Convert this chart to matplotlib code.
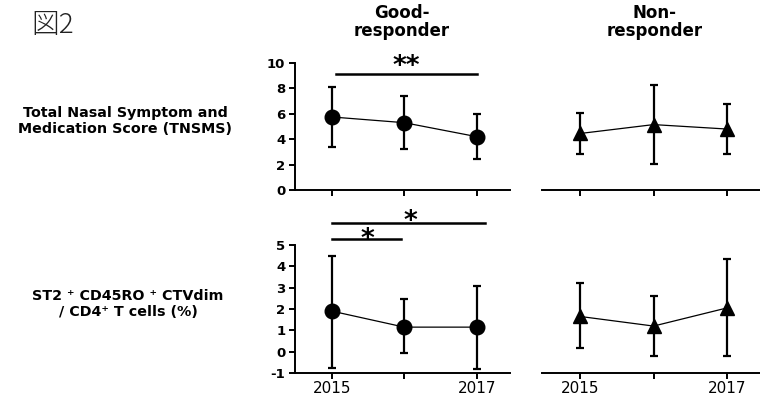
import matplotlib
matplotlib.use("Agg")
import matplotlib.pyplot as plt

years = [2015, 2016, 2017]
year_labels = ["2015", "", "2017"]

tnsms_good = [5.75, 5.3, 4.2]
tnsms_good_hi = [8.1, 7.4, 6.0]
tnsms_good_lo = [3.4, 3.25, 2.45]
tnsms_non = [4.45, 5.15, 4.8]
tnsms_non_hi = [6.05, 8.3, 6.8]
tnsms_non_lo = [2.85, 2.05, 2.8]

st2_good = [1.9, 1.15, 1.15]
st2_good_hi = [4.5, 2.45, 3.1]
st2_good_lo = [-0.75, -0.05, -0.8]
st2_non = [1.65, 1.2, 2.05]
st2_non_hi = [3.2, 2.6, 4.35]
st2_non_lo = [0.15, -0.2, -0.2]

plt.rcParams['font.family'] = ['DejaVu Sans']

fig = plt.figure(figsize=(7.6, 3.98), dpi=100)
W, H = 760, 398

def ax_at(x0, x1, ytop, ybot):
    return fig.add_axes([x0 / W, 1 - ybot / H, (x1 - x0) / W, (ybot - ytop) / H])

ax_tl = ax_at(295, 510, 63, 190)
ax_tr = ax_at(542, 760, 63, 190)
ax_bl = ax_at(295, 510, 245, 373)
ax_br = ax_at(542, 760, 245, 373)

def draw(ax, means, hi, lo, marker, xlim, ylim, yticks, show_y, show_x):
    yerr = [[m - l for m, l in zip(means, lo)], [h - m for m, h in zip(means, hi)]]
    ax.errorbar(years, means, yerr=yerr, fmt='none', ecolor='black', elinewidth=1.6,
                capsize=3, capthick=1.6, zorder=2, clip_on=False)
    ax.plot(years, means, color='black', lw=0.9, zorder=3, clip_on=False)
    ax.plot(years, means, linestyle='none', marker=marker, color='black',
            markersize=10.5, zorder=4, clip_on=False)
    ax.set_xlim(*xlim)
    ax.set_ylim(*ylim)
    for s in ['top', 'right']:
        ax.spines[s].set_visible(False)
    ax.spines['bottom'].set_linewidth(1.4)
    ax.set_xticks(years)
    ax.tick_params(axis='x', direction='out', length=4, width=1.4, pad=1.5)
    if show_x:
        ax.set_xticklabels(year_labels, fontsize=11)
    else:
        ax.set_xticklabels([])
    if show_y:
        ax.spines['left'].set_linewidth(1.4)
        ax.set_yticks(yticks)
        ax.set_yticklabels([str(t) for t in yticks], fontsize=9.5, fontweight='bold')
        ax.tick_params(axis='y', direction='out', length=4, width=1.4, pad=3)
    else:
        ax.spines['left'].set_visible(False)
        ax.set_yticks([])
    ax.patch.set_alpha(0)

draw(ax_tl, tnsms_good, tnsms_good_hi, tnsms_good_lo, 'o', (2014.49, 2017.46), (0, 10),
     [0, 2, 4, 6, 8, 10], True, False)
draw(ax_tr, tnsms_non, tnsms_non_hi, tnsms_non_lo, '^', (2014.48, 2017.45), (0, 10),
     [], False, False)
draw(ax_bl, st2_good, st2_good_hi, st2_good_lo, 'o', (2014.49, 2017.46), (-1, 5),
     [-1, 0, 1, 2, 3, 4, 5], True, True)
draw(ax_br, st2_non, st2_non_hi, st2_non_lo, '^', (2014.48, 2017.45), (-1, 5),
     [], False, True)

# significance bars
def star(ax, x, y, s, dy):
    ax.annotate(s, xy=(x, y), xytext=(0, dy), textcoords='offset pixels',
                ha='center', va='baseline', fontsize=19, fontweight='bold',
                annotation_clip=False)

ax_tl.plot([2015.05, 2017], [9.13, 9.13], color='black', lw=1.8, clip_on=False)
star(ax_tl, 2016.03, 9.13, '**', 0)
ax_bl.plot([2015, 2015.96], [5.28, 5.28], color='black', lw=1.8, clip_on=False)
star(ax_bl, 2015.49, 5.28, '*', -8)
ax_bl.plot([2015, 2017.11], [6.03, 6.03], color='black', lw=1.8, clip_on=False)
star(ax_bl, 2016.09, 6.03, '*', -6)

# column titles
fig.text(402 / W, 1 - 22 / H, 'Good-\nresponder', ha='center', va='center',
         fontsize=12, fontweight='bold', linespacing=1.05)
fig.text(655 / W, 1 - 22 / H, 'Non-\nresponder', ha='center', va='center',
         fontsize=12, fontweight='bold', linespacing=1.05)

# row labels
fig.text(125 / W, 1 - 121 / H, 'Total Nasal Symptom and\nMedication Score (TNSMS)',
         ha='center', va='center', fontsize=10.3, fontweight='bold', linespacing=1.15)
fig.text(128 / W, 1 - 304 / H, 'ST2 \u207a CD45RO \u207a CTVdim\n/ CD4\u207a T cells (%)',
         ha='center', va='center', fontsize=10.3, fontweight='bold', linespacing=1.15)

# figure label
fig.text(31 / W, 1 - 25 / H, '図2', ha='left', va='center', fontsize=20,
         family=['Noto Sans CJK JP', 'DejaVu Sans'], fontweight='light', color='#222222')

fig.savefig('out.png', dpi=100)
